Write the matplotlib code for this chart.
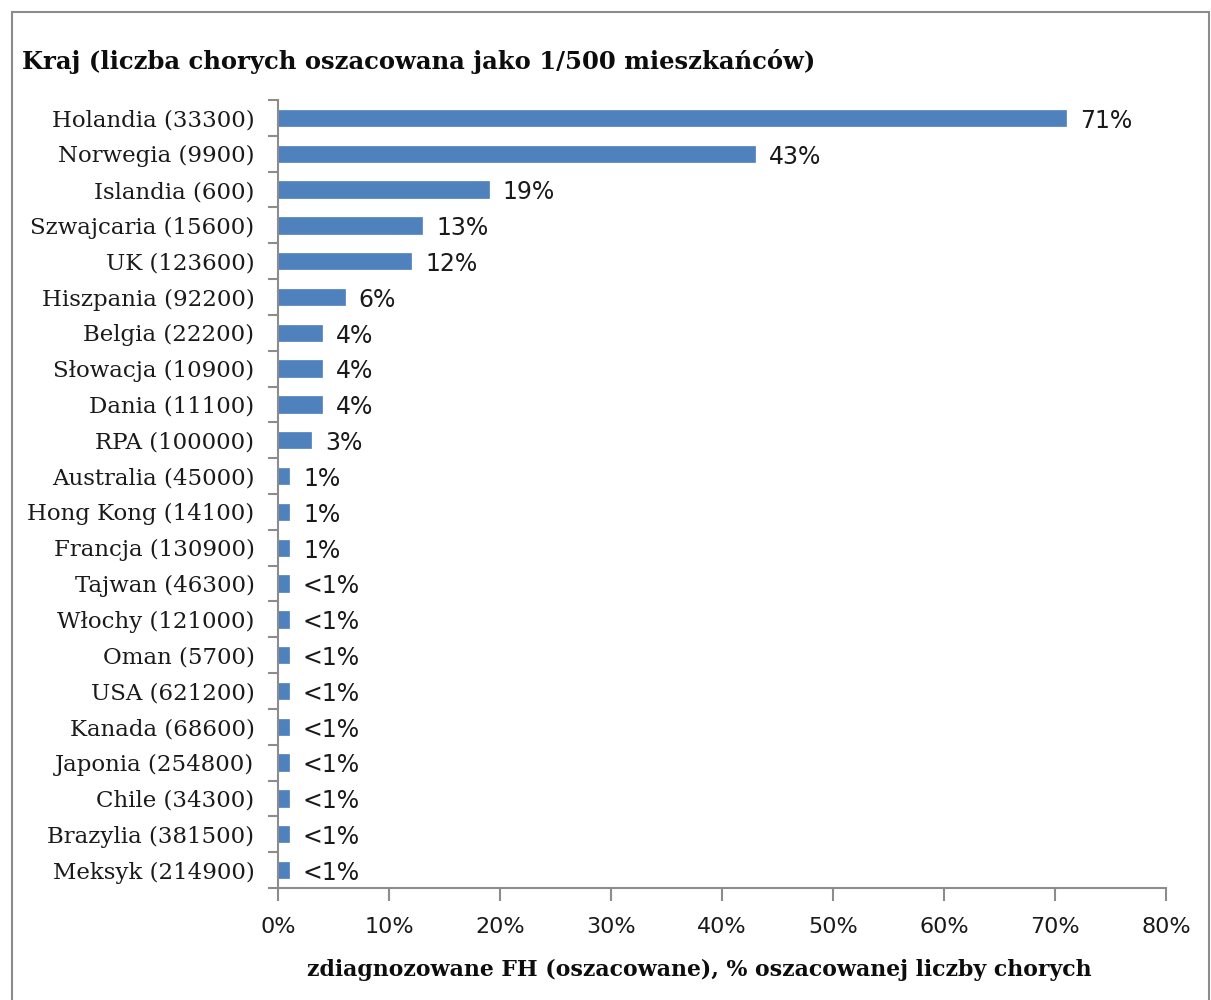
import matplotlib
matplotlib.use("Agg")
import matplotlib.pyplot as plt
from matplotlib.patches import Rectangle
from matplotlib.ticker import FixedLocator, FuncFormatter

categories = ["Holandia (33300)", "Norwegia (9900)", "Islandia (600)", "Szwajcaria (15600)",
              "UK (123600)", "Hiszpania (92200)", "Belgia (22200)", "Słowacja (10900)",
              "Dania (11100)", "RPA (100000)", "Australia (45000)", "Hong Kong (14100)",
              "Francja (130900)", "Tajwan (46300)", "Włochy (121000)", "Oman (5700)",
              "USA (621200)", "Kanada (68600)", "Japonia (254800)", "Chile (34300)",
              "Brazylia (381500)", "Meksyk (214900)"]
values = [71, 43, 19, 13, 12, 6, 4, 4, 4, 3, 1, 1, 1, 1, 1, 1, 1, 1, 1, 1, 1, 1]
value_labels = ["71%", "43%", "19%", "13%", "12%", "6%", "4%", "4%", "4%", "3%", "1%", "1%",
                "1%", "<1%", "<1%", "<1%", "<1%", "<1%", "<1%", "<1%", "<1%", "<1%"]
x_ticks = [0, 10, 20, 30, 40, 50, 60, 70, 80]

title = "Kraj (liczba chorych oszacowana jako 1/500 mieszkańców)"
xlabel = "zdiagnozowane FH (oszacowane), % oszacowanej liczby chorych"

W, H = 1211, 1000
fig = plt.figure(figsize=(W / 100, H / 100), dpi=100)

# outer border
fig.patches.append(Rectangle((12 / W, -0.01), (1209 - 12) / W, (1000 - 12) / H + 0.01,
                             transform=fig.transFigure, fill=False,
                             edgecolor="#8c8c8c", linewidth=1.5))

ax = fig.add_axes([278 / W, 1 - 888 / H, (1166 - 278) / W, (888 - 100) / H])

bar_color = "#4F81BD"
pos = list(range(len(categories)))
ax.barh(pos, values, height=0.4545, color=bar_color, edgecolor=bar_color, linewidth=0.5)

for p, v, lab in zip(pos, values, value_labels):
    ax.annotate(lab, (v, p), xytext=(10, -2), textcoords="offset points",
                va="center", ha="left", fontsize=17, family="DejaVu Sans", color="#1a1a1a")

ax.set_ylim(len(categories) - 0.5, -0.5)
ax.set_xlim(0, 80)

ax.set_yticks(pos)
ax.set_yticklabels(categories, family="DejaVu Serif", fontsize=16.5, color="#1a1a1a")
ax.yaxis.set_minor_locator(FixedLocator([i - 0.5 for i in range(len(categories) + 1)]))
ax.tick_params(axis="y", which="major", length=0, pad=17)
ax.tick_params(axis="y", which="minor", length=7, width=1.5, color="#8c8c8c", direction="out")

ax.set_xticks(x_ticks)
ax.xaxis.set_major_formatter(FuncFormatter(lambda v, p: f"{int(v)}%"))
ax.tick_params(axis="x", length=9, width=1.5, color="#8c8c8c", direction="out", pad=12,
               labelsize=16, labelcolor="#1a1a1a")
for lab in ax.get_xticklabels():
    lab.set_family("DejaVu Sans")

for s in ["top", "right"]:
    ax.spines[s].set_visible(False)
for s in ["left", "bottom"]:
    ax.spines[s].set_color("#8c8c8c")
    ax.spines[s].set_linewidth(1.5)

fig.text(22 / W, 1 - 62 / H, title, ha="left", va="center", fontsize=17.5,
         family="DejaVu Serif", fontweight="bold", color="#0d0d0d")
fig.text(699 / W, 1 - 970 / H, xlabel, ha="center", va="center", fontsize=15.8,
         family="DejaVu Serif", fontweight="bold", color="#0d0d0d")

fig.savefig("out.png", dpi=100)
